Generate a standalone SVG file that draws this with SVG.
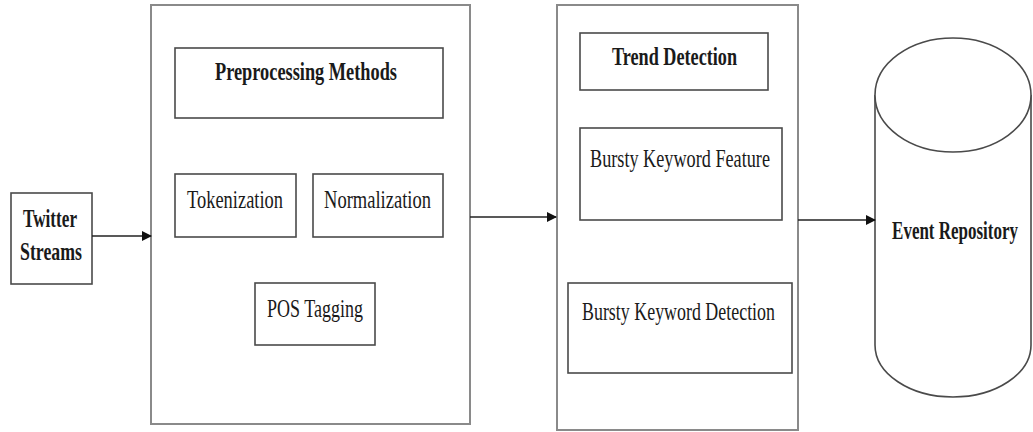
<svg xmlns="http://www.w3.org/2000/svg" width="1033" height="432" viewBox="0 0 1033 432">
<style>
.bg{fill:#fff}
.outer{fill:#fff;stroke:#8a8a8a;stroke-width:2}
.inner{fill:#fff;stroke:#4a4a4a;stroke-width:1.6}
.t{font-family:"Liberation Serif",serif;font-size:26px;fill:#1a1a1a;text-anchor:middle}
.b{font-weight:bold}
.conn{stroke:#222;stroke-width:1.6;fill:none;marker-end:url(#ah)}
</style>
<defs>
<marker id="ah" markerWidth="10" markerHeight="10" refX="9" refY="5" orient="auto" markerUnits="userSpaceOnUse">
<path d="M0,0 L10,5 L0,10 Z" fill="#111"/>
</marker>
</defs>
<rect class="bg" x="0" y="0" width="1033" height="432"/>
<g id="twitter">
<rect class="inner" x="11" y="193" width="81" height="91"/>
<text class="t b" x="50" y="227" textLength="54" lengthAdjust="spacingAndGlyphs">Twitter</text>
<text class="t b" x="51" y="260" textLength="62" lengthAdjust="spacingAndGlyphs">Streams</text>
</g>
<g id="preprocessing">
<rect class="outer" x="151" y="5" width="319" height="419"/>
<rect class="inner" x="175" y="48" width="268" height="70"/>
<text class="t b" x="306" y="80" textLength="182" lengthAdjust="spacingAndGlyphs">Preprocessing Methods</text>
</g>
<g id="tokenization">
<rect class="inner" x="175" y="174" width="121" height="63"/>
<text class="t" x="235" y="208" textLength="96" lengthAdjust="spacingAndGlyphs">Tokenization</text>
</g>
<g id="normalization">
<rect class="inner" x="313" y="174" width="130" height="63"/>
<text class="t" x="377.5" y="208" textLength="107" lengthAdjust="spacingAndGlyphs">Normalization</text>
</g>
<g id="pos">
<rect class="inner" x="255" y="283" width="120" height="62"/>
<text class="t" x="315" y="317" textLength="96" lengthAdjust="spacingAndGlyphs">POS Tagging</text>
</g>
<g id="trend">
<rect class="outer" x="557" y="5" width="241" height="425"/>
<rect class="inner" x="580" y="33" width="188" height="57"/>
<text class="t b" x="674.5" y="65" textLength="125" lengthAdjust="spacingAndGlyphs">Trend Detection</text>
</g>
<g id="feature">
<rect class="inner" x="580" y="128" width="202" height="92"/>
<text class="t" x="680" y="167" textLength="180" lengthAdjust="spacingAndGlyphs">Bursty Keyword Feature</text>
</g>
<g id="detection">
<rect class="inner" x="568" y="283" width="224" height="90"/>
<text class="t" x="678.5" y="320" textLength="193" lengthAdjust="spacingAndGlyphs">Bursty Keyword Detection</text>
</g>
<g id="repository">
<path class="inner" d="M875,95 L875,345 A78,52 0 0 0 1031,345 L1031,95"/>
<ellipse class="inner" cx="953" cy="95" rx="78" ry="57"/>
<text class="t b" x="0" y="0" transform="translate(955,239) scale(0.653,1)">Event Repository</text>
</g>
<g id="connectors">
<line class="conn" x1="92" y1="236" x2="151" y2="236"/>
<line class="conn" x1="470" y1="217" x2="556" y2="217"/>
<line class="conn" x1="798" y1="220" x2="875" y2="220"/>
</g>
</svg>
